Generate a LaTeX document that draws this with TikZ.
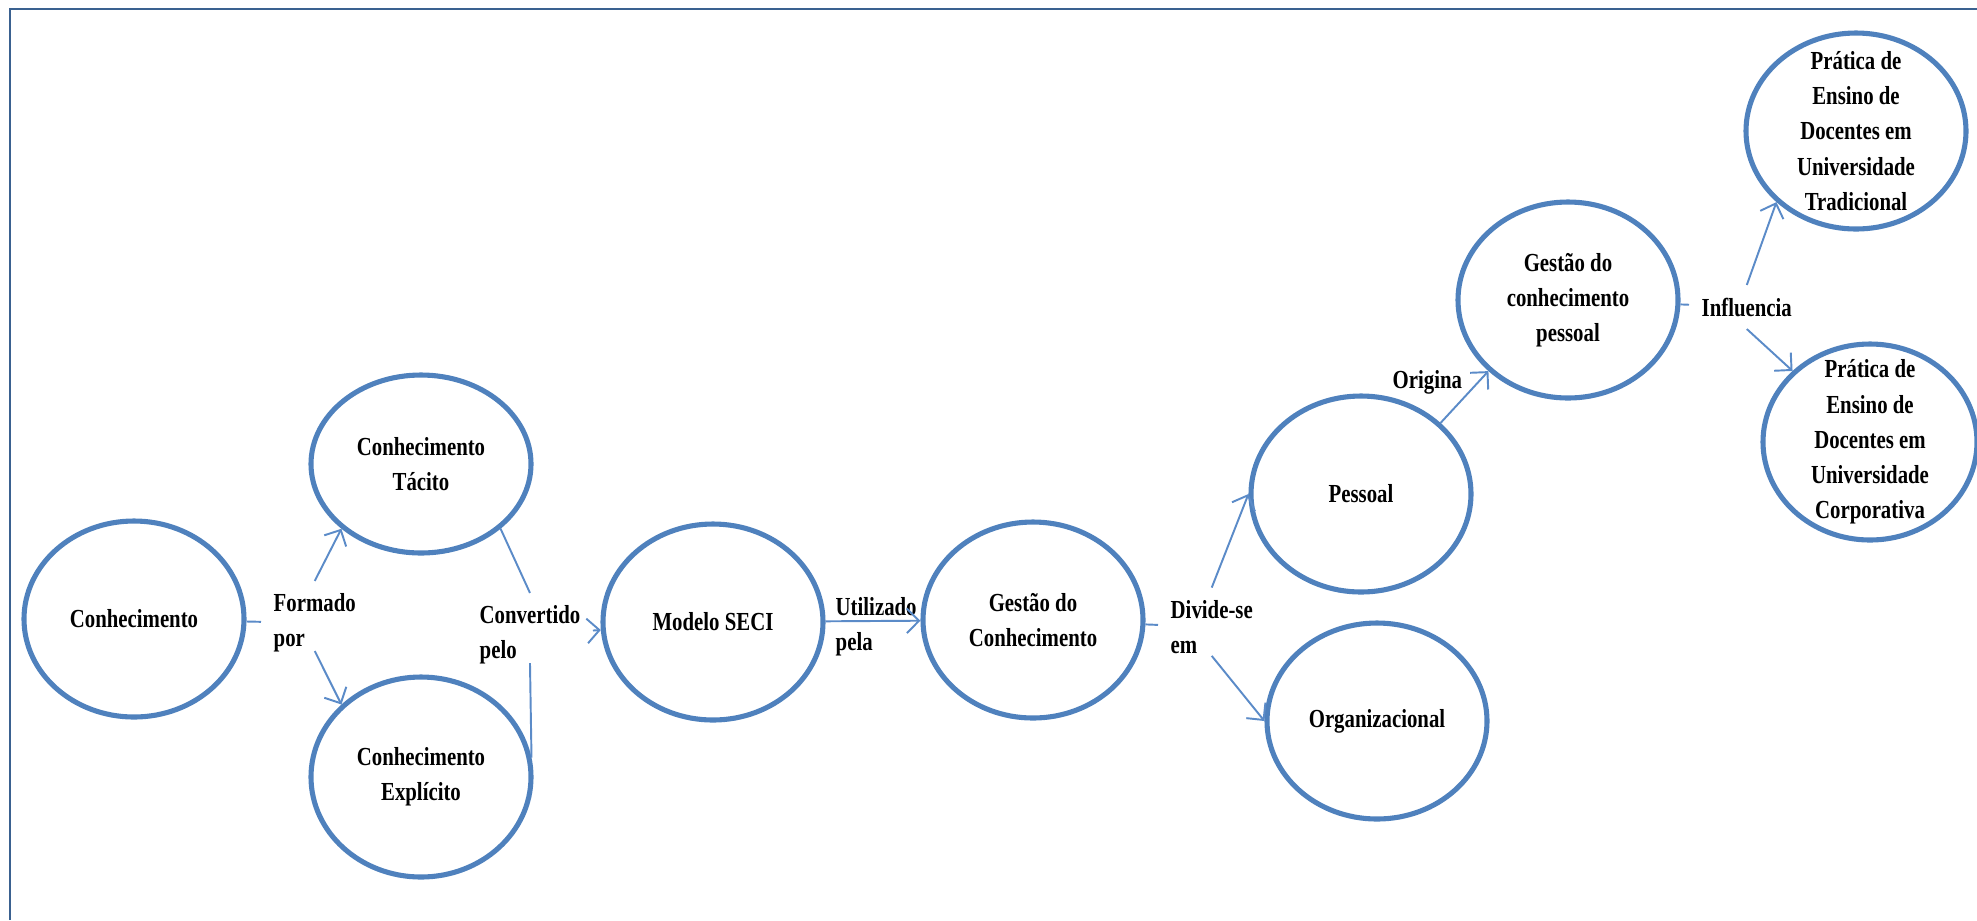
\documentclass[tikz,border=0pt]{standalone}
\usepackage{fontspec}
\setmainfont{Liberation Serif}[FakeStretch=0.8]
\usepackage{tikz}
\usetikzlibrary{shapes.geometric, arrows.meta, calc}
\definecolor{frameblue}{HTML}{3A6190}
\definecolor{ringblue}{HTML}{4F81BD}
\definecolor{lineblue}{HTML}{5B8BC8}

\begin{document}
\begin{tikzpicture}[
  every node/.style={font=\fontsize{7.4pt}{10pt}\selectfont\bfseries, text=black},
  ell/.style={ellipse, draw=ringblue, line width=1.45pt, align=center,
              minimum width=2.2cm, minimum height=1.96cm, inner sep=-0.5cm},
  lbl/.style={anchor=west, align=left, inner sep=0.12cm},
  arr/.style={-{Straight Barb[length=3.5pt,width=7pt]}, line width=0.55pt, lineblue},
  ln/.style={line width=0.55pt, lineblue}
]
  \useasboundingbox (0,0) rectangle (19.77,-9.20);
  \draw[frameblue, line width=0.7pt] (0.10,-9.20) -- (0.10,-0.09) -- (19.77,-0.09);

  % circles
  \node[ell] (conh) at (1.34,-6.19) {Conhecimento};
  \node[ell, minimum height=1.78cm] (tacito) at (4.21,-4.64) {Conhecimento\\Tácito};
  \node[ell, minimum height=2.0cm] (explicito) at (4.21,-7.77) {Conhecimento\\Explícito};
  \node[ell] (seci) at (7.13,-6.22) {Modelo SECI};
  \node[ell] (gestao) at (10.33,-6.20) {Gestão do\\Conhecimento};
  \node[ell] (pessoal) at (13.61,-4.94) {Pessoal};
  \node[ell] (organiz) at (13.77,-7.21) {Organizacional};
  \node[ell] (gcp) at (15.68,-3.00) {Gestão do\\conhecimento\\pessoal};
  \node[ell] (tradic) at (18.56,-1.31) {Prática de\\Ensino de\\Docentes em\\Universidade\\Tradicional};
  \node[ell, minimum width=2.14cm] (corpor) at (18.70,-4.42) {Prática de\\Ensino de\\Docentes em\\Universidade\\Corporativa};

  % connector labels
  \node[lbl] (formado) at (2.61,-6.23) {Formado\\por};
  \node[lbl] (convertido) at (4.67,-6.35) {Convertido\\pelo};
  \node[lbl] (utilizado) at (8.23,-6.27) {Utilizado\\pela};
  \node[lbl] (divide) at (11.58,-6.27) {Divide-se\\em};
  \node[lbl] (origina) at (13.80,-3.82) {Origina};
  \node[lbl] (influencia) at (16.89,-3.07) {Influencia};

  % connectors
  \draw[ln] (conh) -- (formado);
  \draw[arr] (formado.north) -- (tacito.south west);
  \draw[arr] ([yshift=4pt]formado.south) -- (explicito.north west);
  \draw[ln] (tacito.south east) -- (convertido.north);
  \draw[ln] (explicito.10) -- ([yshift=4pt]convertido.south);
  \draw[arr] (convertido) -- (seci);
  \draw[arr] (seci) -- (gestao);
  \draw[ln] (gestao) -- (divide);
  \draw[arr] (divide.north) -- (pessoal.west);
  \draw[arr] ([yshift=3pt]divide.south) -- (organiz.west);
  \draw[arr] (pessoal.north east) -- (gcp.south west);
  \draw[ln] (gcp) -- (influencia);
  \draw[arr] (influencia.north) -- (tradic.south west);
  \draw[arr] (influencia.south) -- (corpor.north west);
\end{tikzpicture}
\end{document}
